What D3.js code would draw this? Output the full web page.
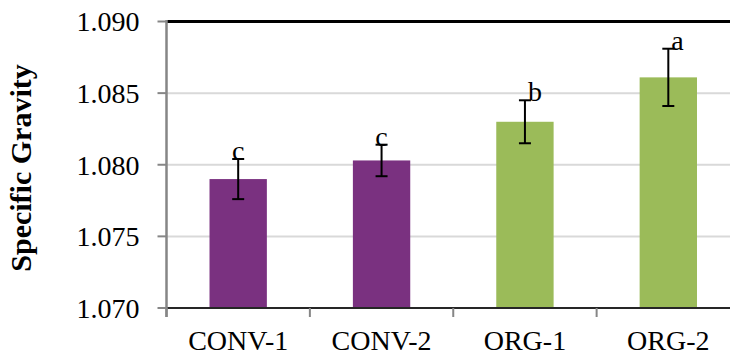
<!DOCTYPE html>
<html lang="en">
<head>
<meta charset="UTF-8">
<title>Specific Gravity</title>
<script src="https://d3js.org/d3.v7.min.js"></script>
<style>
  body { margin: 0; padding: 0; background: #fff; }
  svg text { font-family: "Times New Roman", "Liberation Serif", "DejaVu Serif", serif; }
</style>
</head>
<body>
<svg width="730" height="356"></svg>
<script>
// Data
const categories = ["CONV-1", "CONV-2", "ORG-1", "ORG-2"];
const values = [1.0790, 1.0803, 1.0830, 1.0861];
const errors = [0.0014, 0.0011, 0.0015, 0.0020];
const letters = ["c", "c", "b", "a"];
const groups = ["conv", "conv", "org", "org"];
const yTicks = [1.070, 1.075, 1.080, 1.085, 1.090];

// Layout
const width = 730, height = 356;
const margin = { top: 21.5, left: 166.5 };
const plotW = 573.5, plotH = 286.5;
const color = { conv: "#7A3180", org: "#9BBB59" };

const svg = d3.select("svg");
const g = svg.append("g").attr("transform", `translate(${margin.left},${margin.top})`);

const x = d3.scaleBand().domain(categories).range([0, plotW]).paddingInner(0.6).paddingOuter(0.3);
const y = d3.scaleLinear().domain([1.070, 1.090]).range([plotH, 0]);

// gridlines
g.selectAll("line.grid")
  .data(yTicks.slice(1, -1))
  .enter().append("line")
  .attr("x1", 0).attr("x2", plotW)
  .attr("y1", d => y(d)).attr("y2", d => y(d))
  .attr("stroke", "#D9D9D9").attr("stroke-width", 2);

// bars
g.selectAll("rect.bar")
  .data(categories)
  .enter().append("rect")
  .attr("x", d => x(d))
  .attr("width", x.bandwidth())
  .attr("y", (d, i) => y(values[i]))
  .attr("height", (d, i) => plotH - y(values[i]))
  .attr("fill", (d, i) => color[groups[i]]);

// top border
g.append("line")
  .attr("x1", 0).attr("x2", plotW)
  .attr("y1", 0).attr("y2", 0)
  .attr("stroke", "#000").attr("stroke-width", 3);

// bottom axis
const xAxisBand = d3.scaleLinear().domain([0, categories.length]).range([0, plotW]);
g.append("line")
  .attr("x1", 0).attr("x2", plotW)
  .attr("y1", plotH).attr("y2", plotH)
  .attr("stroke", "#262626").attr("stroke-width", 2);
g.selectAll("line.xtick")
  .data(d3.range(categories.length + 1))
  .enter().append("line")
  .attr("x1", d => xAxisBand(d)).attr("x2", d => xAxisBand(d))
  .attr("y1", plotH).attr("y2", plotH + 9)
  .attr("stroke", "#868686").attr("stroke-width", 2);
g.selectAll("text.xlab")
  .data(categories)
  .enter().append("text")
  .attr("x", d => x(d) + x.bandwidth() / 2)
  .attr("y", plotH + 42)
  .attr("text-anchor", "middle")
  .attr("font-size", 28)
  .attr("fill", "#000")
  .text(d => d);

// left axis
g.append("line")
  .attr("x1", 0).attr("x2", 0)
  .attr("y1", -1.5).attr("y2", plotH + 9)
  .attr("stroke", "#868686").attr("stroke-width", 2.5);
g.selectAll("line.ytick")
  .data(yTicks)
  .enter().append("line")
  .attr("x1", -9).attr("x2", 0)
  .attr("y1", d => y(d)).attr("y2", d => y(d))
  .attr("stroke", "#868686").attr("stroke-width", 2);
g.selectAll("text.ylab")
  .data(yTicks)
  .enter().append("text")
  .attr("x", -27)
  .attr("y", d => y(d))
  .attr("dy", "0.35em")
  .attr("text-anchor", "end")
  .attr("font-size", 28)
  .attr("fill", "#000")
  .text(d => d3.format(".3f")(d));

// error bars
const cap = 6;
categories.forEach((c, i) => {
  const cx = x(c) + x.bandwidth() / 2;
  const top = y(values[i] + errors[i]);
  const bot = y(values[i] - errors[i]);
  g.append("line").attr("x1", cx).attr("x2", cx).attr("y1", top).attr("y2", bot)
    .attr("stroke", "#000").attr("stroke-width", 2);
  [top, bot].forEach(yy => {
    g.append("line").attr("x1", cx - cap).attr("x2", cx + cap).attr("y1", yy).attr("y2", yy)
      .attr("stroke", "#000").attr("stroke-width", 2);
  });
  // significance letters
  const shifted = letters[i] !== "c";
  g.append("text")
    .attr("x", shifted ? cx + 3 : cx)
    .attr("y", top + 1)
    .attr("text-anchor", shifted ? "start" : "middle")
    .attr("font-size", 28)
    .attr("fill", "#000")
    .text(letters[i]);
});

// y axis title
svg.append("text")
  .attr("transform", `translate(31,168) rotate(-90)`)
  .attr("text-anchor", "middle")
  .attr("font-size", 30)
  .attr("font-weight", "bold")
  .attr("fill", "#000")
  .text("Specific Gravity");
</script>
</body>
</html>
